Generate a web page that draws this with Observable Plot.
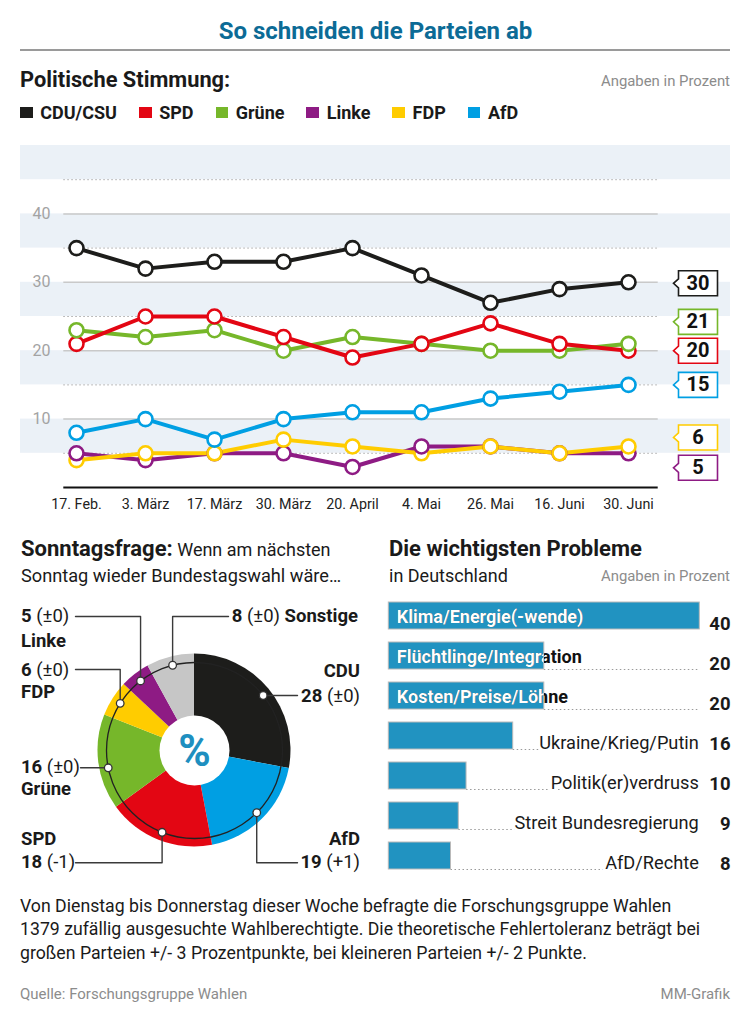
<!DOCTYPE html>
<html><head><meta charset="utf-8">
<script src="https://cdn.jsdelivr.net/npm/d3@7"></script>
<script src="https://cdn.jsdelivr.net/npm/@observablehq/plot@0.6"></script>
<style>
body{margin:0;background:#fff;}
#root{position:relative;width:751px;height:1024px;font-family:Roboto,"Noto Sans",sans-serif;color:#1a1a1a;overflow:hidden;background:#fff;}
.t{position:absolute;line-height:1;white-space:nowrap;}
#root svg{position:absolute;font-family:Roboto,"Noto Sans",sans-serif;}
</style></head><body><div id="root"></div>
<script>
// ---------- DATA ----------
const dates = ["17. Feb.","3. März","17. März","30. März","20. April","4. Mai","26. Mai","16. Juni","30. Juni"];
const parties = ["CDU/CSU","SPD","Grüne","Linke","FDP","AfD"];
const cdu    = [35,32,33,33,35,31,27,29,30];
const spd    = [21,25,25,22,19,21,24,21,20];
const gruene = [23,22,23,20,22,21,20,20,21];
const linke  = [5,4,5,5,3,6,6,5,5];
const fdp    = [4,5,5,7,6,5,6,5,6];
const afd    = [8,10,7,10,11,11,13,14,15];
const yTicks = [10,20,30,40];

const pieParties = ["CDU","AfD","SPD","Grüne","FDP","Linke","Sonstige"];
const pieValues  = [28,19,18,16,6,5,8];
const pieChanges = ["±0","+1","-1","±0","±0","±0","±0"];

const problems = ["Klima/Energie(-wende)","Flüchtlinge/Integration","Kosten/Preise/Löhne","Ukraine/Krieg/Putin","Politik(er)verdruss","Streit Bundesregierung","AfD/Rechte"];
const problemValues = [40,20,20,16,10,9,8];

// ---------- STYLE ----------
const colors = {"CDU/CSU":"#1d1d1b","SPD":"#e30613","Grüne":"#76b72a","Linke":"#8e1b84","FDP":"#ffcc00","AfD":"#009fe3"};
const pieColors = {"CDU":"#1d1d1b","AfD":"#009fe3","SPD":"#e30613","Grüne":"#76b72a","FDP":"#ffcc00","Linke":"#8e1b84","Sonstige":"#c6c6c6"};
const FONT = "Roboto, 'Noto Sans', sans-serif";
const root = document.getElementById("root");

function addText(html, o) {
  const d = document.createElement("div");
  d.className = "t"; d.innerHTML = html;
  d.style.fontSize = o.size + "px";
  d.style.fontWeight = o.weight || 400;
  d.style.color = o.color || "#1a1a1a";
  const ls = o.lineSize || o.size;
  d.style.top = (o.baseline - 0.8418 * ls) + "px";
  if (o.center) { d.style.left = "0px"; d.style.width = "751px"; d.style.textAlign = "center"; }
  else if (o.right != null) d.style.right = o.right + "px";
  else d.style.left = o.left + "px";
  root.appendChild(d);
  return d;
}
function placeSvg(svg, left, top) { svg.style.left = left + "px"; svg.style.top = top + "px"; root.appendChild(svg); }

// ---------- HEADER ----------
addText("So schneiden die Parteien ab", {center:true, baseline:39.5, size:24, weight:700, color:"#0c6b96"});
const hr = document.createElement("div");
Object.assign(hr.style, {position:"absolute", left:"20px", top:"49.3px", width:"710px", height:"1.4px", background:"#9a9a9a"});
root.appendChild(hr);
addText("Politische Stimmung:", {left:20, baseline:87, size:21.8, weight:700});
addText("Angaben in Prozent", {right:21, baseline:86.5, size:14.9, color:"#8c8c8c"});

// legend
const leg = document.createElement("div");
Object.assign(leg.style, {position:"absolute", left:"20px", top:(119 - 0.8418*18)+"px", display:"flex", gap:"22px", fontSize:"18px", fontWeight:"700", lineHeight:"1"});
parties.forEach(p => {
  const it = document.createElement("div");
  Object.assign(it.style, {display:"flex", alignItems:"flex-start"});
  const sq = document.createElement("span");
  Object.assign(sq.style, {display:"inline-block", width:"12.7px", height:"11.7px", marginTop:"2.9px", marginRight:"7.5px", background:colors[p]});
  const tx = document.createElement("span"); tx.textContent = p;
  it.appendChild(sq); it.appendChild(tx); leg.appendChild(it);
});
root.appendChild(leg);

// ---------- LINE CHART ----------
const series = {"CDU/CSU":cdu, "SPD":spd, "Grüne":gruene, "Linke":linke, "FDP":fdp, "AfD":afd};
const lineOrder = ["CDU/CSU","Grüne","SPD","AfD","Linke","FDP"];
const tieRank = Object.fromEntries(lineOrder.map((p,i)=>[p,i]));
const rows = lineOrder.flatMap(p => dates.map((d,i)=>({party:p, date:d, value:series[p][i], color:colors[p]})));
const dotRows = rows.slice().sort((a,b)=> a.value - b.value || tieRank[a.party] - tieRank[b.party]);
const lastRows = parties.map(p => ({party:p, date:dates[dates.length-1], value:series[p][dates.length-1], color:colors[p]}));
const labelNudge = {"CDU/CSU":1, "SPD":0, "Grüne":-22, "Linke":14.5, "FDP":-9, "AfD":0};
const bands = d3.range(5, 50, 10).map(v => ({lo:v, hi:v+5}));
const solidGrid = [10,20,30,40];
const dottedGrid = [5,15,25,35,45];
const boxSymbol = {draw(ctx){ const l=-19.5, r=19.5, t=-12.5, b=12.5;
  ctx.moveTo(l,t); ctx.lineTo(r,t); ctx.lineTo(r,b); ctx.lineTo(l,b); ctx.lineTo(l,4.5); ctx.lineTo(l-5,0); ctx.lineTo(l,-4.5); ctx.closePath(); }};

const lineChart = Plot.plot({
  width:751, height:380, marginTop:5, marginBottom:33, marginLeft:20, marginRight:21,
  x:{type:"point", domain:dates, range:[75.3, 627.7], padding:0, axis:null},
  y:{domain:[0,50], axis:null},
  color:{type:"identity"},
  style:{fontFamily:FONT, overflow:"visible", background:"transparent"},
  marks:[
    Plot.rect(bands, {y1:"lo", y2:"hi", fill:"#ebf1f7"}),
    Plot.ruleY(dottedGrid, {stroke:"#a9a9a9", strokeWidth:1, strokeDasharray:"1.5,2.5", insetLeft:43.3, insetRight:72.3}),
    Plot.ruleY(solidGrid, {stroke:"#c9c9c9", strokeWidth:1.5, insetLeft:43.3, insetRight:72.3}),
    Plot.ruleY([0], {stroke:"#111", strokeWidth:2, insetLeft:43.3, insetRight:72.3}),
    Plot.text(yTicks, {y:d=>d, text:d=>String(d), frameAnchor:"left", dx:30, textAnchor:"end", fontSize:16, fill:"#a3a3a3"}),
    Plot.text(dates, {x:d=>d, text:d=>d, frameAnchor:"bottom", dy:21.3, fontSize:14.3, fill:"#222"}),
    Plot.line(rows, {x:"date", y:"value", z:"party", stroke:"color", strokeWidth:4, strokeLinejoin:"round"}),
    Plot.dot(dotRows, {x:"date", y:"value", r:7, fill:"white", stroke:"color", strokeWidth:2.6}),
    ...parties.flatMap(p => {
      const d = lastRows.filter(r => r.party === p);
      return [
        Plot.dot(d, {x:"date", y:"value", dx:69.5, dy:labelNudge[p], symbol:boxSymbol, r:10, fill:"white", stroke:"color", strokeWidth:1.6}),
        Plot.text(d, {x:"date", y:"value", dx:69.5, dy:labelNudge[p], text:r=>String(r.value), fontSize:20, fontWeight:"bold", fill:"#111"})
      ];
    })
  ]
});
placeSvg(lineChart, 0, 140);

// ---------- PIE (Sonntagsfrage) ----------
addText('<b style="font-size:22px">Sonntagsfrage:</b> Wenn am nächsten', {left:21, baseline:556.7, size:18, lineSize:22});
addText("Sonntag wieder Bundestagswahl wäre…", {left:21, baseline:582.3, size:18.2});

const cx = 194, cy = 160, R = 96.5, ringR = 88, holeR = 35;
const pieArcs = d3.pie().sort(null).value(d => d)(pieValues);
const pieLayout = {
  "CDU":     {mode:"h", leadY:105,   leadX:297, anchor:"end",   x:360, nameY:86.7,  valY:111.7},
  "AfD":     {mode:"v", leadY:272.3, leadX:297, anchor:"end",   x:360, nameY:255,   valY:278.3},
  "SPD":     {mode:"v", leadY:272.3, leadX:75,  anchor:"start", x:21,  nameY:255,   valY:278.3},
  "Grüne":   {mode:"h", leadY:177.3, leadX:80,  anchor:"start", x:21,  nameY:205,   valY:183.3},
  "FDP":     {mode:"v", leadY:79,    leadX:75,  anchor:"start", x:21,  nameY:108.3, valY:85.7},
  "Linke":   {mode:"v", leadY:26,    leadX:75,  anchor:"start", x:21,  nameY:57,    valY:32},
  "Sonstige":{mode:"v", leadY:26,    leadX:228, anchor:"start", x:231.7, inline:true, valY:32}
};
const pieRows = pieParties.map((name, i) => {
  const L = pieLayout[name];
  const a = (pieArcs[i].startAngle + pieArcs[i].endAngle) / 2;
  let ax, ay;
  if (L.mode === "h") {
    ay = L.leadY;
    const dxr = Math.sqrt(ringR*ringR - (ay-cy)*(ay-cy));
    ax = cx + (Math.sin(a) >= 0 ? dxr : -dxr);
  } else { ax = cx + ringR*Math.sin(a); ay = cy - ringR*Math.cos(a); }
  return {name, value:pieValues[i], change:pieChanges[i], arc:pieArcs[i], ax, ay, L};
});
const leaderPts = pieRows.flatMap(r => r.L.mode === "h"
  ? [{name:r.name, x:r.ax, y:r.ay}, {name:r.name, x:r.L.leadX, y:r.ay}]
  : [{name:r.name, x:r.ax, y:r.ay}, {name:r.name, x:r.ax, y:r.L.leadY}, {name:r.name, x:r.L.leadX, y:r.L.leadY}]);

function pieSlices() {
  const g = d3.create("svg:g").attr("transform", `translate(${cx},${cy})`);
  const arc = d3.arc().innerRadius(0).outerRadius(R);
  g.selectAll("path").data(pieRows).join("path").attr("d", d => arc(d.arc)).attr("fill", d => pieColors[d.name]);
  return g.node();
}
function pieLabels() {
  const g = d3.create("svg:g").attr("font-size", 18.5).attr("fill", "#1a1a1a");
  pieRows.forEach(r => {
    const L = r.L;
    const t = g.append("text").attr("x", L.x).attr("y", L.valY).attr("text-anchor", L.anchor);
    t.append("tspan").attr("font-weight", "bold").text(String(r.value));
    t.append("tspan").text(` (${r.change})` + (L.inline ? " " : ""));
    if (L.inline) t.append("tspan").attr("font-weight", "bold").text(r.name);
    else g.append("text").attr("x", L.x).attr("y", L.nameY).attr("text-anchor", L.anchor).attr("font-weight", "bold").text(r.name);
  });
  return g.node();
}
const pieChart = Plot.plot({
  width:375, height:290, margin:0,
  x:{type:"identity", axis:null}, y:{type:"identity", axis:null},
  style:{fontFamily:FONT, overflow:"visible", background:"transparent"},
  marks:[
    pieSlices,
    Plot.dot([0], {x:()=>cx, y:()=>cy, r:ringR, fill:"none", stroke:"#222", strokeWidth:1.3}),
    Plot.dot([0], {x:()=>cx, y:()=>cy, r:holeR, fill:"white"}),
    Plot.text(["%"], {x:()=>cx, y:()=>cy, text:d=>d, fontSize:44, fontWeight:"bold", fill:"#1e8fc0", dy:1}),
    Plot.line(leaderPts, {x:"x", y:"y", z:"name", stroke:"#3a3a3a", strokeWidth:1.4}),
    Plot.dot(pieRows, {x:"ax", y:"ay", r:3.8, fill:"white", stroke:"#333", strokeWidth:1.3}),
    pieLabels
  ]
});
placeSvg(pieChart, 0, 590);

// ---------- BARS (Probleme) ----------
addText("Die wichtigsten Probleme", {left:389, baseline:556.5, size:22, weight:700});
addText("in Deutschland", {left:389, baseline:582, size:18});
addText("Angaben in Prozent", {right:21, baseline:582, size:14.9, color:"#8c8c8c"});

const barRows = problems.map((name, i) => ({name, v:problemValues[i]}));
const inside = barRows.filter(d => d.v >= 20);
const outside = barRows.filter(d => d.v < 20);
const xMax = 40;
const barChart = Plot.plot({
  width:376, height:290, marginTop:0, marginBottom:0, marginLeft:13.3, marginRight:21,
  x:{domain:[0, xMax], range:[13.3, 324.3], axis:null},
  y:{type:"band", domain:problems, range:[5.8, 285.8], paddingInner:0.325, paddingOuter:0.1625, axis:null},
  style:{fontFamily:FONT, overflow:"visible", background:"transparent"},
  marks:[
    Plot.ruleY(barRows.filter(d => d.v < xMax), {y:"name", x1:"v", x2:()=>xMax, dy:13.5, stroke:"#9a9a9a", strokeWidth:1, strokeDasharray:"1.5,2.5"}),
    Plot.barX(barRows, {x:"v", y:"name", fill:"#2193c1", stroke:"#b9b9b9", strokeWidth:1}),
    Plot.text(inside, {x:()=>0, y:"name", text:"name", dx:8, dy:1.5, textAnchor:"start", fontSize:18, fontWeight:"bold", fill:"#111"}),
    Plot.text(inside, {x:()=>0, y:"name", text:"name", dx:8, dy:1.5, textAnchor:"start", fontSize:18, fontWeight:"bold", fill:"#fffffe"}),
    Plot.text(outside, {x:()=>xMax, y:"name", text:"name", dx:-1, dy:12.8, lineAnchor:"bottom", textAnchor:"end", fontSize:18.2, fill:"#1a1a1a", stroke:"white", strokeWidth:6, paintOrder:"stroke"}),
    Plot.text(barRows, {y:"name", text:d=>String(d.v), frameAnchor:"right", textAnchor:"end", lineAnchor:"bottom", dy:14, fontSize:18.5, fontWeight:"bold", fill:"#1a1a1a"})
  ]
});
// clip the white copy of the in-bar labels to the bars
(function(){
  const ns = "http://www.w3.org/2000/svg";
  const barG = barChart.querySelector('g[aria-label="bar"]');
  const whiteG = [...barChart.querySelectorAll('g[aria-label="text"]')].find(g => g.getAttribute("fill") === "#fffffe");
  if (!barG || !whiteG) return;
  const cp = document.createElementNS(ns, "clipPath"); cp.setAttribute("id", "barclip");
  const tr = barG.getAttribute("transform");
  barG.querySelectorAll("rect").forEach(r => { const c = r.cloneNode(); if (tr) c.setAttribute("transform", tr); cp.appendChild(c); });
  barChart.appendChild(cp);
  const wrap = document.createElementNS(ns, "g");
  whiteG.parentNode.insertBefore(wrap, whiteG); wrap.appendChild(whiteG);
  wrap.setAttribute("clip-path", "url(#barclip)");
})();
placeSvg(barChart, 375, 590);

// ---------- FOOTER ----------
addText("Von Dienstag bis Donnerstag dieser Woche befragte die Forschungsgruppe Wahlen", {left:20, baseline:912.5, size:17.7});
addText("1379 zufällig ausgesuchte Wahlberechtigte. Die theoretische Fehlertoleranz beträgt bei", {left:20, baseline:936, size:17.7});
addText("großen Parteien +/- 3 Prozentpunkte, bei kleineren Parteien +/- 2 Punkte.", {left:20, baseline:959.5, size:17.7});
addText("Quelle: Forschungsgruppe Wahlen", {left:20, baseline:1000, size:15, color:"#8c8c8c"});
addText("MM-Grafik", {right:21, baseline:1000, size:15, color:"#8c8c8c"});
</script></body></html>
